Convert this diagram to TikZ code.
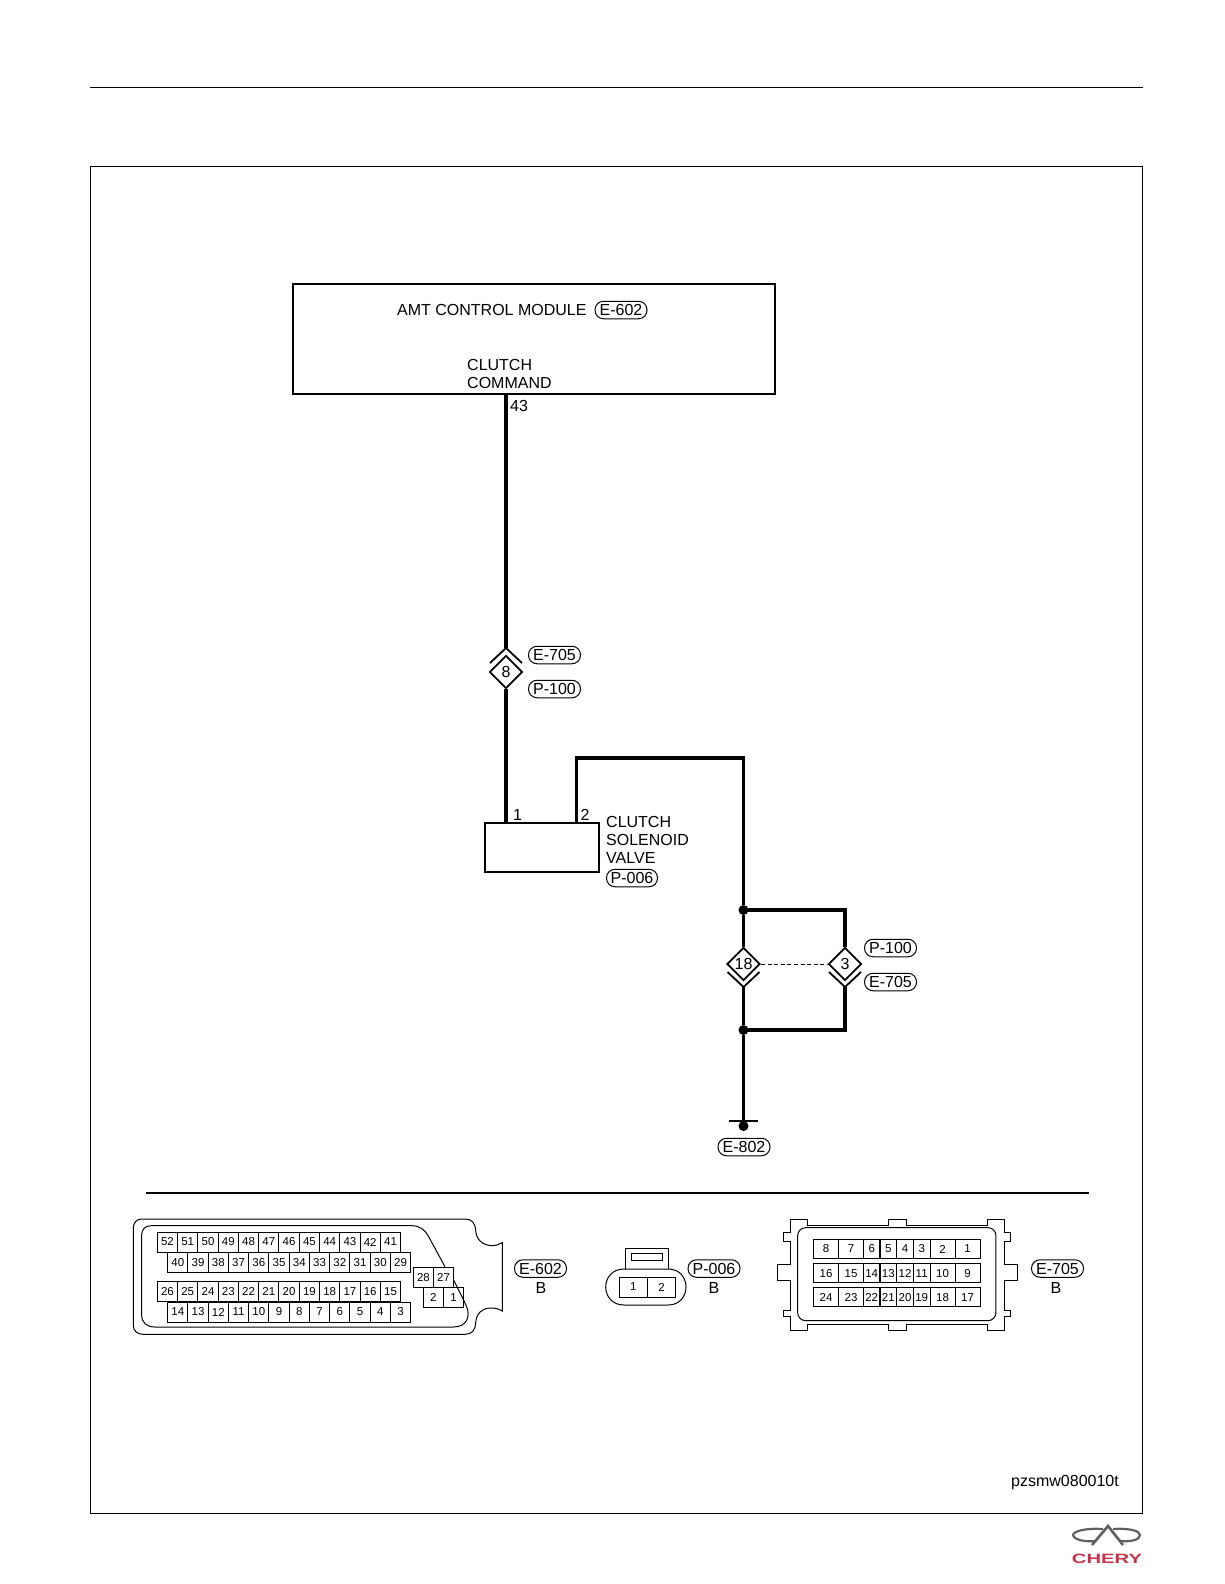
\documentclass[tikz,border=0pt]{standalone}
\usepackage{graphicx}
\usepackage{fontspec}
\setmainfont{Liberation Sans}
\usetikzlibrary{shapes.geometric,calc}
\tikzset{
  wire/.style={line width=3.2pt,line join=miter},
  lbl/.style={inner sep=0pt,font=\fontsize{16}{18}\selectfont},
  llbl/.style={lbl,anchor=west,align=left},
  tag/.style={draw,line width=1pt,rounded corners=8.5pt,minimum width=52pt,minimum height=17.5pt,inner sep=0pt,font=\fontsize{16}{18}\selectfont},
  conn/.style={draw,fill=white,diamond,aspect=1,line width=1.8pt,minimum size=33pt,inner sep=0pt,font=\fontsize{16}{18}\selectfont},
  chev/.style={line width=1.8pt},
  jdot/.style={circle,fill=black,minimum size=10pt,inner sep=0pt},
  cell/.style={draw,line width=1pt,inner sep=0pt,font=\fontsize{11.5}{12}\selectfont,anchor=center},
  body/.style={line width=1pt},
}
\definecolor{logored}{RGB}{200,50,75}
\definecolor{logogray}{RGB}{95,95,95}
\begin{document}
\begin{tikzpicture}[x=1pt,y=-1pt]
\useasboundingbox (0,0) rectangle (1224,1584);
% page rule and frame
\draw[line width=1pt] (90,88) -- (1143,88);
\draw[line width=1pt] (90,166) rectangle (1142.5,1513);
% module
\node[draw,line width=2.4pt,minimum width=482pt,minimum height=110pt,inner sep=0pt] (module) at (534,339) {};
\node[llbl] (modname) at (397,310) {AMT CONTROL MODULE};
\node[tag] (tagE602a) at (621,310) {E-602};
\node[llbl] (cmd) at (467,374) {CLUTCH\\COMMAND};
\node[llbl] (pin43) at (510,405.5) {43};
% connector 8
\node[conn] (d8) at (506,672) {8};
\coordinate (c8top) at (506,648);
\coordinate (c8l) at (490,663);
\coordinate (c8r) at (522,663);
\node[tag] (tagE705a) at (554.5,655) {E-705};
\node[tag] (tagP100a) at (554.5,689) {P-100};
% valve
\node[draw,line width=2.4pt,minimum width=114.5pt,minimum height=49pt,inner sep=0pt] (valve) at (542,847.5) {};
\node[lbl] (pin1) at (517.5,815) {1};
\node[lbl] (pin2) at (585,815) {2};
\node[llbl] (vname) at (606,840) {CLUTCH\\SOLENOID\\VALVE};
\node[tag,minimum width=51pt] (tagP006a) at (632,878) {P-006};
% junctions and lower connectors
\node[jdot] (j1) at (743.5,910) {};
\node[jdot] (j2) at (743.5,1030) {};
\node[conn] (d18) at (743.5,964) {18};
\node[conn] (d3) at (845,964) {3};
\coordinate (c18bot) at (743.5,987);
\coordinate (c3bot) at (845,987);
\node[tag] (tagP100b) at (890.5,948) {P-100};
\node[tag] (tagE705b) at (890.5,982) {E-705};
\node[jdot] (gdot) at (743.5,1126) {};
\coordinate (gl) at (729,1121);
\coordinate (gr) at (757.5,1121);
\node[tag] (tagE802) at (744,1147) {E-802};
\coordinate (bend1) at (576.5,758);
\coordinate (bend2) at (743.5,758);
% wires
\draw[wire] (module.south -| d8) -- (c8top);
\draw[wire] (d8.south) -- (d8.south |- valve.north);
\draw[wire] (bend1 |- valve.north) -- (bend1) -- (bend2) -- (j1);
\draw[wire] (j1) -- (d18.north);
\draw[wire] (j1.center) -| (d3.north);
\draw[wire] (c18bot) -- (j2);
\draw[wire] (c3bot) |- (j2.center);
\draw[wire] (j2) -- (gdot);
\draw[chev] (c8l) -- (c8top) -- (c8r);
\draw[chev] ($(c18bot)+(-16,-15)$) -- (c18bot) -- ($(c18bot)+(16,-15)$);
\draw[chev] ($(c3bot)+(-16,-15)$) -- (c3bot) -- ($(c3bot)+(16,-15)$);
\draw[line width=1pt,dash pattern=on 4pt off 2.6pt] (d18.east) -- (d3.west);
\draw[line width=2pt] (gl) -- (gr);
% separator
\draw[line width=2pt] (145.5,1193) -- (1089,1193);
% E-602 connector body
\begin{scope}[shift={(120,1200)},x=0.3333pt,y=-0.3333pt]
\draw[body] (65,57) -- (1035,57) .. controls (1055,57) and (1065,68) .. (1067,90) .. controls (1069,118) and (1085,135) .. (1115,137) .. controls (1128,137) and (1138,133) .. (1147,128) -- (1147,333) .. controls (1138,328) and (1128,323) .. (1110,324) .. controls (1085,326) and (1069,340) .. (1067,370) .. controls (1065,392) and (1055,403) .. (1035,403) -- (70,403) .. controls (50,403) and (40,392) .. (40,375) -- (40,85) .. controls (40,68) and (50,57) .. (65,57) -- cycle;
\draw[body] (1001,240) -- (1031,300) -- (1040,320) .. controls (1052,350) and (1040,381) .. (1000,381) -- (105,381) .. controls (80,381) and (65,368) .. (65,345) -- (65,105) .. controls (65,88) and (75,77) .. (95,77) -- (875,77) .. controls (900,77) and (915,90) .. (925,108) -- (975,200);
\end{scope}
% E-602 cells
\foreach \n [count=\i] in {52,51,...,41}
  \node[cell,minimum width=20.28pt,minimum height=20pt] (aA\n) at ({157.3+(\i-0.5)*20.28},1242) {\n};
\foreach \n [count=\i] in {40,39,...,29}
  \node[cell,minimum width=20.25pt,minimum height=20.5pt] (aB\n) at ({167.7+(\i-0.5)*20.25},1262.5) {\n};
\foreach \n [count=\i] in {26,25,...,15}
  \node[cell,minimum width=20.28pt,minimum height=20.5pt] (aC\n) at ({157.3+(\i-0.5)*20.28},1291.5) {\n};
\foreach \n [count=\i] in {14,13,...,3}
  \node[cell,minimum width=20.25pt,minimum height=20pt] (aD\n) at ({167.7+(\i-0.5)*20.25},1312) {\n};
\node[cell,minimum width=20.2pt,minimum height=20pt] (aE28) at (423.4,1277.7) {28};
\node[cell,minimum width=20.2pt,minimum height=20pt] (aE27) at (443.6,1277.7) {27};
\node[cell,minimum width=20.2pt,minimum height=20pt] (aE2) at (433.4,1297.7) {2};
\node[cell,minimum width=20.2pt,minimum height=20pt] (aE1) at (453.6,1297.7) {1};
\node[tag] (tagE602b) at (540.5,1268.5) {E-602};
\node[lbl] (bE602) at (541,1288) {B};
% P-006 connector
\draw[body] (625,1269) -- (625,1248) -- (668,1248) -- (668,1269);
\draw[body] (631,1253) rectangle (662,1260);
\draw[body] (624,1269) -- (668,1269) .. controls (680,1269) and (686,1278) .. (686,1287) .. controls (686,1296) and (680,1305) .. (668,1305) -- (624,1305) .. controls (612,1305) and (605.7,1296) .. (605.7,1287) .. controls (605.7,1278) and (612,1269) .. (624,1269) -- cycle;
\node[cell,minimum width=28.3pt,minimum height=20pt] (bA1) at (633.2,1287) {1};
\node[cell,minimum width=28.3pt,minimum height=20pt] (bA2) at (661.5,1287) {2};
\node[tag] (tagP006b) at (714,1268.5) {P-006};
\node[lbl] (bP006) at (714,1288) {B};
% E-705 connector body
\begin{scope}[shift={(590,1200)},x=0.3333pt,y=-0.3333pt]
\draw[body] (601,57) -- (652,57) -- (652,75) -- (897,75) -- (897,57) -- (950,57) -- (950,75) -- (1192,75) -- (1192,57) -- (1244,57) -- (1244,98) -- (1261,98) -- (1261,123) -- (1244,123) -- (1244,192) -- (1282,192) -- (1282,240) -- (1244,240) -- (1244,330) -- (1261,330) -- (1261,350) -- (1244,350) -- (1244,390) -- (1192,390) -- (1192,373) -- (950,373) -- (950,390) -- (897,390) -- (897,373) -- (652,373) -- (652,390) -- (601,390) -- (601,350) -- (582,350) -- (582,330) -- (601,330) -- (601,240) -- (563,240) -- (563,192) -- (601,192) -- (601,123) -- (582,123) -- (582,98) -- (601,98) -- cycle;
\draw[body,rounded corners=8pt] (623,83) rectangle (1218,362);
\end{scope}
\foreach \cx/\w/\a/\b/\c in {826/25.4/8/16/24,851/24.6/7/15/23,871.7/16.7/6/14/22,888.3/16.7/5/13/21,905/16.7/4/12/20,921.7/16.7/3/11/19,942.5/25/2/10/18,967.5/25/1/9/17}{
  \node[cell,minimum width=\w pt,minimum height=19.4pt] (cA\a) at (\cx,1249) {\a};
  \node[cell,minimum width=\w pt,minimum height=19pt] (cB\b) at (\cx,1273.2) {\b};
  \node[cell,minimum width=\w pt,minimum height=19pt] (cC\c) at (\cx,1297.2) {\c};
}
\node[tag] (tagE705c) at (1057.5,1268.5) {E-705};
\node[lbl] (bE705) at (1056,1288) {B};
% drawing number
\node[lbl,anchor=east,font=\fontsize{16}{18}\selectfont] (dwg) at (1119,1482.5) {pzsmw080010t};
% logo
\draw[logogray,line width=2.2pt] (1103,1529) .. controls (1085,1528) and (1074,1531) .. (1073,1535) .. controls (1074,1540) and (1085,1542) .. (1096,1541);
\draw[logogray,line width=2.2pt] (1113,1529) .. controls (1130,1528) and (1140,1531) .. (1140,1535) .. controls (1140,1540) and (1130,1542) .. (1120,1541);
\draw[logogray,line width=2.6pt] (1092,1545) -- (1108,1526) -- (1123,1545);
\node[inner sep=0pt,text=logored,font=\fontsize{15}{16}\bfseries\selectfont] (logo) at (1107,1559) {\scalebox{1.35}[0.9]{CHERY}};
\end{tikzpicture}
\end{document}
